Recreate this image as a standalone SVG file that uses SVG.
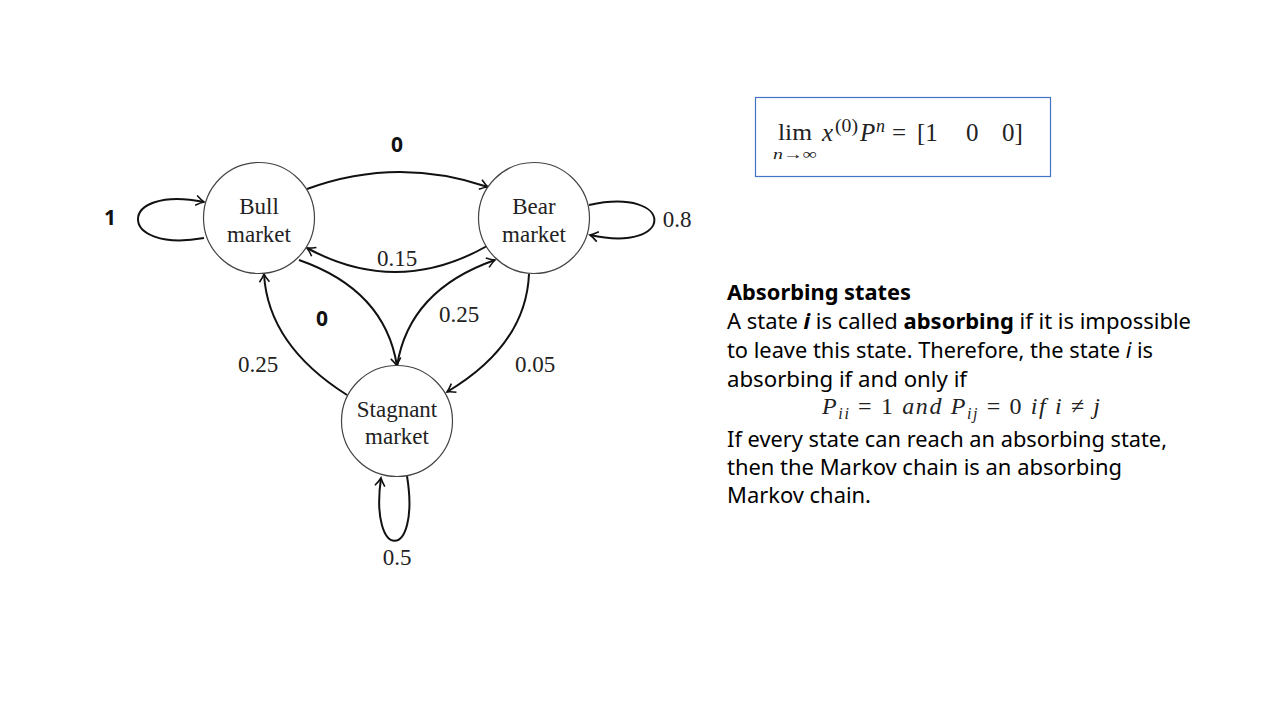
<svg xmlns="http://www.w3.org/2000/svg" width="1280" height="720" viewBox="0 0 1280 720">
<style>
.node{fill:#fff;stroke:#444;stroke-width:1.2}
.nt{font-family:"Liberation Serif","DejaVu Serif",serif;font-size:23px;fill:#222;text-anchor:middle}
.edge{fill:none;stroke:#111;stroke-width:2;marker-end:url(#arr)}
.el{font-family:"Liberation Serif","DejaVu Serif",serif;font-size:23px;fill:#222;text-anchor:middle}
.bl{font-family:"Noto Sans","Open Sans",sans-serif;font-size:21px;font-weight:bold;fill:#111;text-anchor:middle}
.tx{font-family:"Noto Sans","Open Sans",sans-serif;font-size:21px;fill:#000}
.m{font-family:"Liberation Serif","DejaVu Serif",serif;fill:#222}
</style>
<defs>
<marker id="arr" markerUnits="userSpaceOnUse" markerWidth="14" markerHeight="14" viewBox="-10 -7 12 14" refX="0" refY="0" orient="auto">
<path d="M -8 -5 Q -3 -1.2 0 0 Q -3 1.2 -8 5" fill="none" stroke="#111" stroke-width="1.6"/>
</marker>
</defs>
<rect width="1280" height="720" fill="#fff"/>

<g id="connectors">
<path class="edge" d="M 307 189 Q 397 156 488 187"/>
<path class="edge" d="M 487 246 Q 397 297 307 248"/>
<path class="edge" d="M 204 238 C 116 254, 116 184, 204 202"/>
<path class="edge" d="M 589 205 C 676 186, 676 254, 590 235"/>
<path class="edge" d="M 299 260 Q 385 290 397 366"/>
<path class="edge" d="M 397 366 Q 409 290 495 260"/>
<path class="edge" d="M 347 395 Q 268 345 264 274"/>
<path class="edge" d="M 529 274 Q 526 345 447 392"/>
<path class="edge" d="M 407 476 C 421 562, 369 562, 381 478"/>
<text class="bl" x="397" y="152">0</text>
<text class="el" x="397" y="266">0.15</text>
<text class="bl" x="110" y="225">1</text>
<text class="el" x="677" y="227">0.8</text>
<text class="bl" x="322" y="326">0</text>
<text class="el" x="459" y="322">0.25</text>
<text class="el" x="258" y="372">0.25</text>
<text class="el" x="535" y="372">0.05</text>
<text class="el" x="397" y="565">0.5</text>
</g>

<g id="bull">
<circle class="node" cx="259" cy="218" r="55.5"/>
<text class="nt" x="259" y="214">Bull</text>
<text class="nt" x="259" y="242">market</text>
</g>
<g id="bear">
<circle class="node" cx="534" cy="218" r="55.5"/>
<text class="nt" x="534" y="214">Bear</text>
<text class="nt" x="534" y="242">market</text>
</g>
<g id="stagnant">
<circle class="node" cx="397" cy="421" r="55.5"/>
<text class="nt" x="397" y="417">Stagnant</text>
<text class="nt" x="397" y="444">market</text>
</g>

<g id="formula-box">
<rect x="755.5" y="97.5" width="295" height="79" fill="#fff" stroke="#4472C4" stroke-width="1.2"/>
<text class="m" x="778" y="140" font-size="23" textLength="34" lengthAdjust="spacingAndGlyphs">lim</text>
<text class="m" x="773" y="159" font-size="15" textLength="44" lengthAdjust="spacingAndGlyphs"><tspan font-style="italic">n</tspan>→∞</text>
<text class="m" x="822" y="141" font-size="25" font-style="italic">x</text>
<text class="m" x="835" y="132" font-size="18" textLength="23" lengthAdjust="spacingAndGlyphs">(0)</text>
<text class="m" x="860" y="141" font-size="25" font-style="italic">P</text>
<text class="m" x="876" y="132" font-size="18" font-style="italic">n</text>
<text class="m" x="892" y="141" font-size="25">=</text>
<text class="m" x="917" y="141" font-size="25">[1</text>
<text class="m" x="966" y="141" font-size="25">0</text>
<text class="m" x="1002" y="141" font-size="25">0]</text>
</g>

<g id="absorbing-text">
<text class="tx" x="727" y="300" font-weight="bold" textLength="184" lengthAdjust="spacingAndGlyphs">Absorbing states</text>
<text class="tx" x="727" y="329" textLength="464" lengthAdjust="spacingAndGlyphs">A state <tspan font-weight="bold" font-style="italic">i</tspan> is called <tspan font-weight="bold">absorbing</tspan> if it is impossible</text>
<text class="tx" x="727" y="358" textLength="426" lengthAdjust="spacingAndGlyphs">to leave this state. Therefore, the state <tspan font-style="italic">i</tspan> is</text>
<text class="tx" x="727" y="387" textLength="240" lengthAdjust="spacingAndGlyphs">absorbing if and only if</text>
<text class="m" x="822" y="414" font-size="24" textLength="278" lengthAdjust="spacing"><tspan font-style="italic">P</tspan><tspan font-size="16" dy="5" font-style="italic">ii</tspan><tspan dy="-5"> = 1 </tspan><tspan font-style="italic">and P</tspan><tspan font-size="16" dy="5" font-style="italic">ij</tspan><tspan dy="-5"> = 0 </tspan><tspan font-style="italic">if i</tspan> ≠ <tspan font-style="italic">j</tspan></text>
<text class="tx" x="727" y="447" textLength="440" lengthAdjust="spacingAndGlyphs">If every state can reach an absorbing state,</text>
<text class="tx" x="727" y="475" textLength="395" lengthAdjust="spacingAndGlyphs">then the Markov chain is an absorbing</text>
<text class="tx" x="727" y="503" textLength="144" lengthAdjust="spacingAndGlyphs">Markov chain.</text>
</g>
</svg>
